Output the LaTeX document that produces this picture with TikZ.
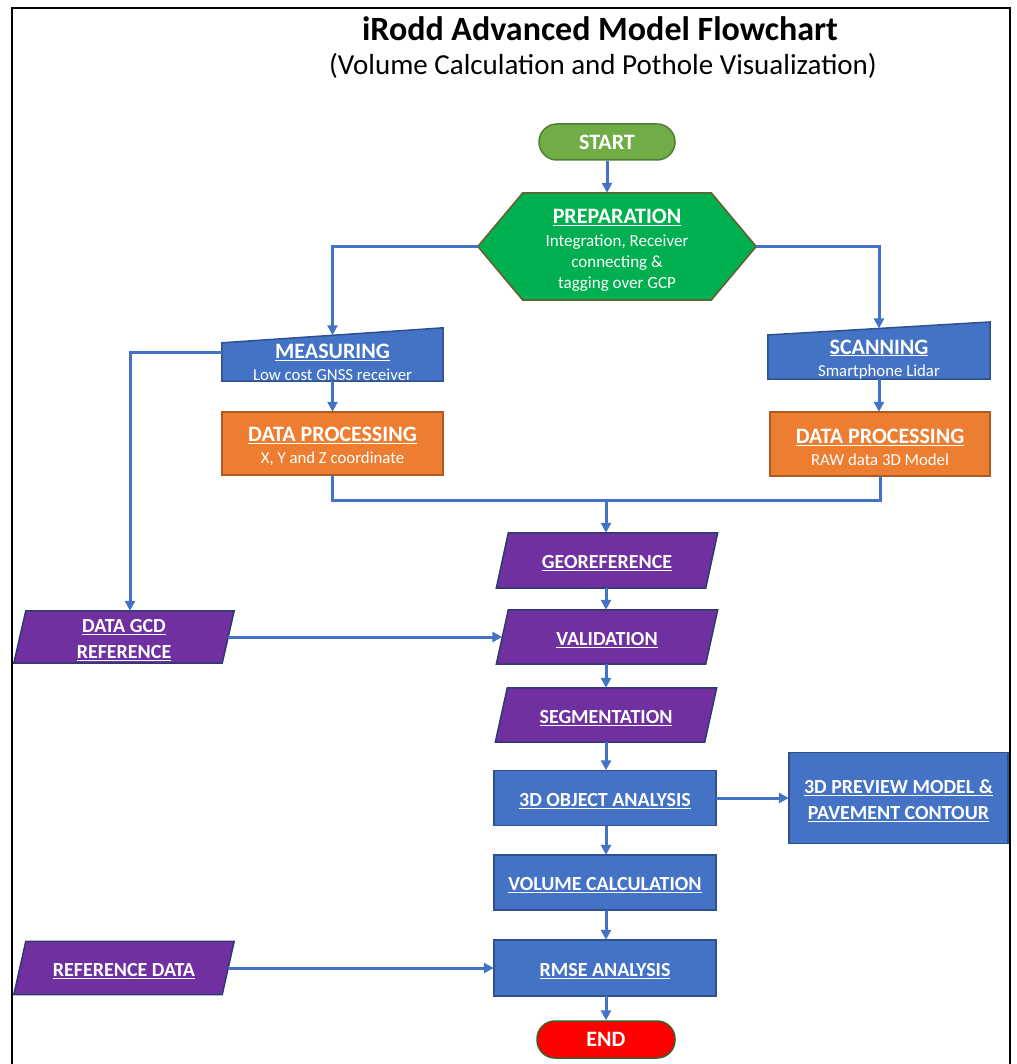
\documentclass[tikz,border=0pt]{standalone}
\usepackage{fontspec}
\setmainfont{Carlito}
\usetikzlibrary{arrows.meta}
\pgfdeclarelayer{bg}\pgfsetlayers{bg,main}
\definecolor{cgreen}{HTML}{70AD47}
\definecolor{cgreenb}{HTML}{507E32}
\definecolor{pgreen}{HTML}{00B050}
\definecolor{pgreenb}{HTML}{6B5A2E}
\definecolor{cblue}{HTML}{4472C4}
\definecolor{cblueb}{HTML}{2F528F}
\definecolor{corange}{HTML}{ED7D31}
\definecolor{corangeb}{HTML}{AE5A21}
\definecolor{cpurple}{HTML}{7030A0}
\definecolor{cpurpleb}{HTML}{2E3B6E}
\definecolor{cred}{HTML}{FF0000}
\definecolor{credb}{HTML}{3B5E2B}
\definecolor{cline}{HTML}{4472C4}
\newcommand\topgap[1]{\rule{0pt}{#1}}
\tikzset{
  txt/.style={rectangle, inner sep=0pt, text=white, align=center},
  bx/.style={font=\fontsize{20}{26}\selectfont\bfseries},
  sub/.style={font=\fontsize{16.8}{22}\selectfont},
  pill/.style={draw, line width=1.5pt, rounded corners=18pt, inner sep=0pt, text=white, font=\fontsize{22}{26}\selectfont\bfseries},
  shp/.style={line width=1.5pt},
  conn/.style={draw=cline, line width=3pt},
  arr/.style={conn, -{Triangle[length=10pt,width=10pt]}},
}
\begin{document}
\begin{tikzpicture}[x=1pt,y=-1pt]
\useasboundingbox (0,0) rectangle (1016,1064);
\draw[line width=2pt] (12,1064) -- (12,8) -- (1010,8) -- (1010,1064);

\node[font=\fontsize{34}{40}\selectfont\bfseries] (title) at (600,29) {iRodd Advanced Model Flowchart};
\node[font=\fontsize{29}{34}\selectfont] (subtitle) at (603,66) {(Volume Calculation and Pothole Visualization)};

\node[pill, fill=cgreen, draw=cgreenb, minimum width=136pt, minimum height=36pt] (start) at (607,142) {START};

\node[txt, minimum width=278pt, minimum height=107pt, font=\fontsize{17}{21}\selectfont] (prep) at (617,246.5)
  {{\fontsize{22}{26}\selectfont\bfseries\topgap{22pt}\underline{PREPARATION}}\\[2pt]Integration, Receiver\\connecting \&\\tagging over GCP};

\node[txt, minimum width=221pt, minimum height=38pt, sub] (meas) at (332.5,362)
  {{\fontsize{22}{26}\selectfont\bfseries\underline{MEASURING}}\\Low cost GNSS receiver};
\node[txt, minimum width=222pt, minimum height=42pt, sub] (scan) at (879,357)
  {{\fontsize{22}{26}\selectfont\bfseries\topgap{19pt}\underline{SCANNING}}\\Smartphone Lidar};

\node[txt, minimum width=221pt, minimum height=63pt, sub] (dpl) at (332.5,443.5)
  {{\fontsize{22}{26}\selectfont\bfseries\topgap{21pt}\underline{DATA PROCESSING}}\\X, Y and Z coordinate};
\node[txt, minimum width=220pt, minimum height=64pt, sub] (dpr) at (880,444)
  {{\fontsize{22}{26}\selectfont\bfseries\topgap{21pt}\underline{DATA PROCESSING}}\\RAW data 3D Model};

\node[txt, bx, minimum width=221pt, minimum height=55pt] (geo) at (607,560.5) {\topgap{19pt}\underline{GEOREFERENCE}};
\node[txt, bx, minimum width=221pt, minimum height=54pt] (val) at (607,637) {\topgap{19pt}\underline{VALIDATION}};
\node[txt, bx, minimum width=221pt, minimum height=54pt] (seg) at (606,715) {\topgap{19pt}\underline{SEGMENTATION}};
\node[txt, bx, minimum width=220pt, minimum height=52pt] (gcd) at (124,637) {\topgap{19pt}\underline{DATA GCD}\\\underline{REFERENCE}};

\node[txt, bx, minimum width=222pt, minimum height=55pt] (obj) at (605,798) {\topgap{19pt}\underline{3D OBJECT ANALYSIS}};
\node[txt, bx, minimum width=219pt, minimum height=91pt] (prev) at (898.5,798) {\topgap{19pt}\underline{3D PREVIEW MODEL \&}\\\underline{PAVEMENT CONTOUR}};
\node[txt, bx, minimum width=222pt, minimum height=55pt] (vol) at (605,882.5) {\topgap{19pt}\underline{VOLUME CALCULATION}};
\node[txt, bx, minimum width=222pt, minimum height=56pt] (rmse) at (605,968) {\topgap{19pt}\underline{RMSE ANALYSIS}};
\node[txt, bx, minimum width=220pt, minimum height=53pt] (ref) at (124,968) {\topgap{19pt}\underline{REFERENCE DATA}};

\node[pill, fill=cred, draw=credb, minimum width=138pt, minimum height=37pt] (end) at (606,1039.5) {END};

\begin{pgfonlayer}{bg}
\draw[shp, fill=pgreen, draw=pgreenb] (prep.west) -- ([xshift=45pt]prep.north west) -- ([xshift=-45pt]prep.north east) -- (prep.east) -- ([xshift=-45pt]prep.south east) -- ([xshift=45pt]prep.south west) -- cycle;
\draw[shp, fill=cblue, draw=cblueb] (meas.south west) -- (meas.north west) -- ([yshift=15pt]meas.north east) -- (meas.south east) -- cycle;
\draw[shp, fill=cblue, draw=cblueb] (scan.south west) -- (scan.north west) -- ([yshift=13pt]scan.north east) -- (scan.south east) -- cycle;
\draw[shp, fill=corange, draw=corangeb] (dpl.south west) rectangle (dpl.north east);
\draw[shp, fill=corange, draw=corangeb] (dpr.south west) rectangle (dpr.north east);
\foreach \n in {geo,val,seg,gcd,ref}{
  \draw[shp, fill=cpurple, draw=cpurpleb] ([xshift=12pt]\n.north west) -- (\n.north east) -- ([xshift=-12pt]\n.south east) -- (\n.south west) -- cycle;
}
\foreach \n in {obj,prev,vol,rmse}{
  \draw[shp, fill=cblue, draw=cblueb] (\n.south west) rectangle (\n.north east);
}
\end{pgfonlayer}

\coordinate (j) at (606,500);
\draw[arr] (start) -- (start |- prep.north);
\draw[arr] (prep.west) -| ([yshift=7.5pt]meas.north);
\draw[arr] (prep.east) -| ([yshift=6.5pt]scan.north);
\draw[arr] (meas) -- (meas |- dpl.north);
\draw[arr] (scan) -- (scan |- dpr.north);
\draw[conn] (dpl.south) |- (j);
\draw[conn] (dpr.south) |- (j);
\draw[arr] (j) -- (j |- geo.north);
\draw[arr] ([yshift=10pt]meas.west) -| ([xshift=6pt]gcd.north);
\draw[arr] ([xshift=-6pt]gcd.east) -- ([xshift=6pt]val.west);
\draw[arr] (geo.south -| j) -- (j |- val.north);
\draw[arr] (val.south -| j) -- (j |- seg.north);
\draw[arr] (seg.south -| j) -- (j |- obj.north);
\draw[arr] (obj.east) -- (prev.west);
\draw[arr] (obj.south -| j) -- (j |- vol.north);
\draw[arr] (vol.south -| j) -- (j |- rmse.north);
\draw[arr] ([xshift=-6pt]ref.east) -- (rmse.west);
\draw[arr] (rmse.south -| j) -- (j |- end.north);
\end{tikzpicture}
\end{document}
